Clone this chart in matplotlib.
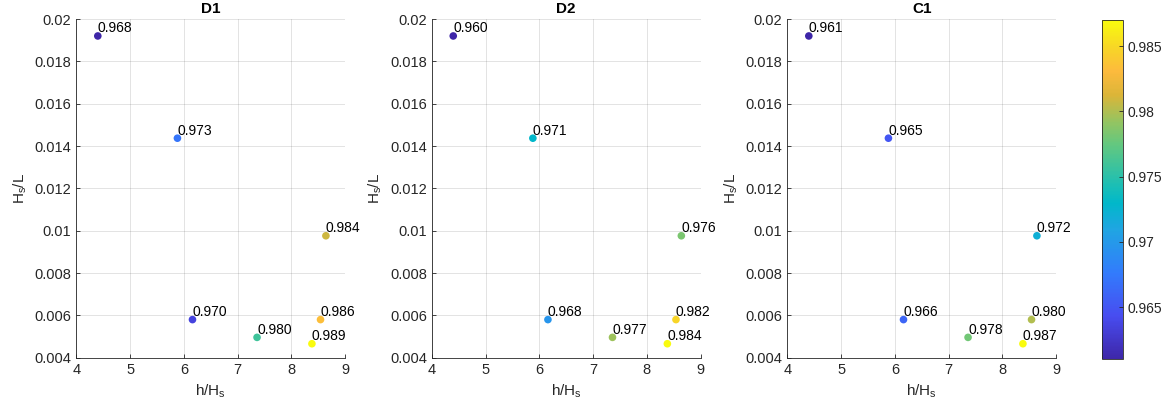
import numpy as np
import matplotlib
matplotlib.use("Agg")
import matplotlib.pyplot as plt
from matplotlib.colors import LinearSegmentedColormap, Normalize
from matplotlib.ticker import FuncFormatter

plt.rcParams['font.family'] = ['Liberation Sans', 'DejaVu Sans']
plt.rcParams['mathtext.fontset'] = 'custom'
plt.rcParams['mathtext.rm'] = 'Liberation Sans'
plt.rcParams['mathtext.it'] = 'Liberation Sans'

# data
h_Hs = [4.40, 5.88, 6.16, 7.36, 8.38, 8.54, 8.64]
Hs_L = [0.0192, 0.01437, 0.0058, 0.00496, 0.00466, 0.0058, 0.00976]
titles = ['D1', 'D2', 'C1']
vals_D1 = [0.968, 0.973, 0.970, 0.980, 0.989, 0.986, 0.984]
vals_D2 = [0.960, 0.971, 0.968, 0.977, 0.984, 0.982, 0.976]
vals_C1 = [0.961, 0.965, 0.966, 0.978, 0.987, 0.980, 0.972]
all_vals = [vals_D1, vals_D2, vals_C1]

# parula-like colormap
parula_pts = [
    (0.0, (0.2422, 0.1504, 0.6603)),
    (8/63, (0.2813, 0.3006, 0.9414)),
    (16/63, (0.1963, 0.4847, 0.9892)),
    (24/63, (0.1248, 0.6459, 0.8883)),
    (29/63, (0.0036, 0.7199, 0.7913)),
    (32/63, (0.0964, 0.7452, 0.7170)),
    (40/63, (0.3909, 0.7833, 0.4985)),
    (0.70, (0.58, 0.77, 0.38)),
    (0.78, (0.86, 0.71, 0.22)),
    (0.85, (0.99, 0.73, 0.24)),
    (0.92, (0.97, 0.84, 0.15)),
    (1.0, (0.9763, 0.9831, 0.0538)),
]
parula = LinearSegmentedColormap.from_list('parula', parula_pts)

fig = plt.figure(figsize=(11.7, 4.12), dpi=100)
lefts = [0.0652, 0.3690, 0.6729]
dark = (0.15, 0.15, 0.15)

sc = None
for i in range(3):
    ax = fig.add_axes([lefts[i], 0.1318, 0.2299, 0.822])
    v = all_vals[i]
    norm = Normalize(vmin=min(v), vmax=max(v))
    sc = ax.scatter(h_Hs, Hs_L, c=v, cmap=parula, norm=norm, s=30, edgecolors='none', zorder=3)
    for x, y, t in zip(h_Hs, Hs_L, v):
        ax.annotate('%.3f' % t, (x, y), xytext=(0, 5.5), textcoords='offset points',
                    ha='left', va='center', fontsize=10, color='black', zorder=4)
    ax.set_xlim(4, 9)
    ax.set_ylim(0.004, 0.02)
    ax.set_xticks([4, 5, 6, 7, 8, 9])
    ax.set_yticks(np.arange(0.004, 0.0201, 0.002))
    ax.yaxis.set_major_formatter(FuncFormatter(lambda y, p: '%g' % round(y, 4)))
    ax.grid(True, color=dark, alpha=0.15, linewidth=0.6)
    ax.set_axisbelow(True)
    for s in ['top', 'right']:
        ax.spines[s].set_visible(False)
    for s in ['left', 'bottom']:
        ax.spines[s].set_color(dark)
        ax.spines[s].set_linewidth(0.6)
    ax.tick_params(direction='in', length=3, width=0.6, colors=dark, labelsize=10.5)
    ax.set_title(titles[i], fontsize=11, fontweight='bold', pad=4)
    ax.set_xlabel(r'h/H$_\mathregular{s}$', fontsize=11, color=dark)
    ax.set_ylabel(r'H$_\mathregular{s}$/L', fontsize=11, color=dark)

cax = fig.add_axes([0.9421, 0.128, 0.0174, 0.8235])
cb = fig.colorbar(sc, cax=cax)
cb.set_ticks([0.965, 0.97, 0.975, 0.98, 0.985])
cb.ax.yaxis.set_major_formatter(FuncFormatter(lambda y, p: '%g' % round(y, 4)))
cb.ax.tick_params(direction='in', length=3, width=0.6, colors=dark, labelsize=10)
cb.outline.set_edgecolor(dark)
cb.outline.set_linewidth(0.6)

fig.savefig('out.png', dpi=100)
